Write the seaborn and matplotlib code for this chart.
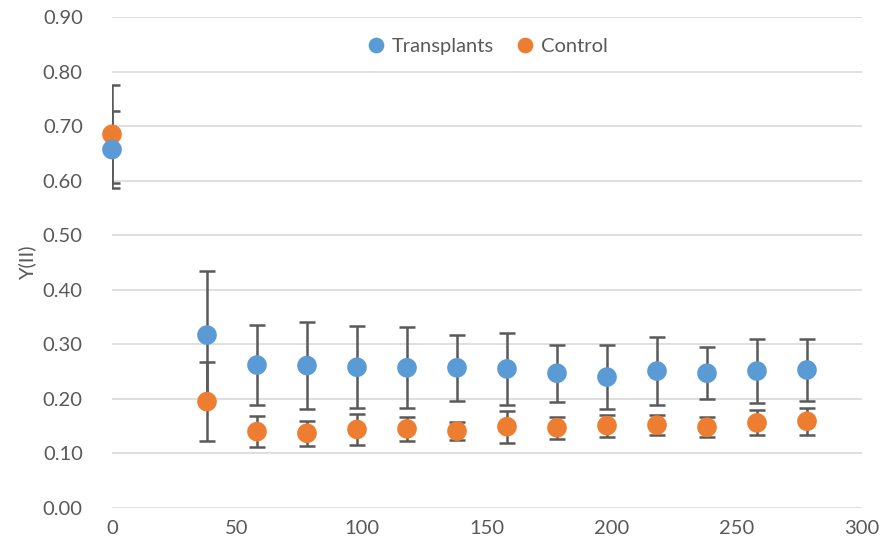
import matplotlib
matplotlib.use("Agg")
import matplotlib.pyplot as plt
import seaborn as sns
import pandas as pd
from matplotlib.ticker import FormatStrFormatter

days = [0, 38, 58, 78, 98, 118, 138, 158, 178, 198, 218, 238, 258, 278]
transplants = [0.657, 0.317, 0.262, 0.261, 0.258, 0.257, 0.257, 0.255, 0.247, 0.240, 0.251, 0.247, 0.251, 0.253]
transplants_err = [0.070, 0.117, 0.073, 0.080, 0.075, 0.074, 0.061, 0.066, 0.052, 0.059, 0.062, 0.048, 0.059, 0.057]
control = [0.685, 0.195, 0.140, 0.137, 0.144, 0.145, 0.141, 0.149, 0.147, 0.151, 0.152, 0.148, 0.156, 0.159]
control_err = [0.090, 0.072, 0.029, 0.023, 0.029, 0.022, 0.017, 0.029, 0.020, 0.020, 0.018, 0.018, 0.023, 0.025]

series_names = ["Transplants", "Control"]
colors = {"Transplants": "#5B9BD5", "Control": "#ED7D31"}

df = pd.concat([
    pd.DataFrame({"day": days, "value": control, "err": control_err, "series": "Control"}),
    pd.DataFrame({"day": days, "value": transplants, "err": transplants_err, "series": "Transplants"}),
])

sns.set_theme(style="white")
plt.rcParams["font.family"] = ["Lato", "DejaVu Sans"]

fig = plt.figure(figsize=(8.85, 5.5), dpi=100)
ax = fig.add_axes([112/885, 1-508/550, 750/885, 491/550])

for name in ["Control", "Transplants"]:
    sub = df[df.series == name]
    ax.errorbar(sub["day"], sub["value"], yerr=sub["err"], fmt="none",
                ecolor="#595959", elinewidth=1.8, capsize=6, capthick=1.8, zorder=2)

sns.scatterplot(data=df, x="day", y="value", hue="series", hue_order=series_names,
                palette=colors, s=200, edgecolor="none", ax=ax, zorder=3, legend=True,
                clip_on=False)

ax.set_xlim(0, 300)
ax.set_ylim(0, 0.9)
ax.set_xticks(range(0, 301, 50))
ax.set_yticks([i/10 for i in range(10)])
ax.yaxis.set_major_formatter(FormatStrFormatter("%.2f"))
ax.grid(axis="y", color="#D9D9D9", linewidth=1.2)
ax.set_axisbelow(True)
for s in ax.spines.values():
    s.set_visible(False)
ax.tick_params(axis="both", length=0, labelsize=14.5, labelcolor="#595959")
ax.tick_params(axis="x", pad=9)
ax.tick_params(axis="y", pad=21)
ax.set_xlabel("")
ax.set_ylabel("Y(II)", fontsize=14.5, color="#595959", labelpad=5)

handles, labels = ax.get_legend_handles_labels()
ax.legend(handles, labels, loc="upper center", bbox_to_anchor=(0.493, 0.995), ncol=2,
          frameon=False, fontsize=14.5, labelcolor="#595959", handletextpad=-0.2,
          columnspacing=0.5, markerscale=0.8)

fig.savefig("out.png", dpi=100)
